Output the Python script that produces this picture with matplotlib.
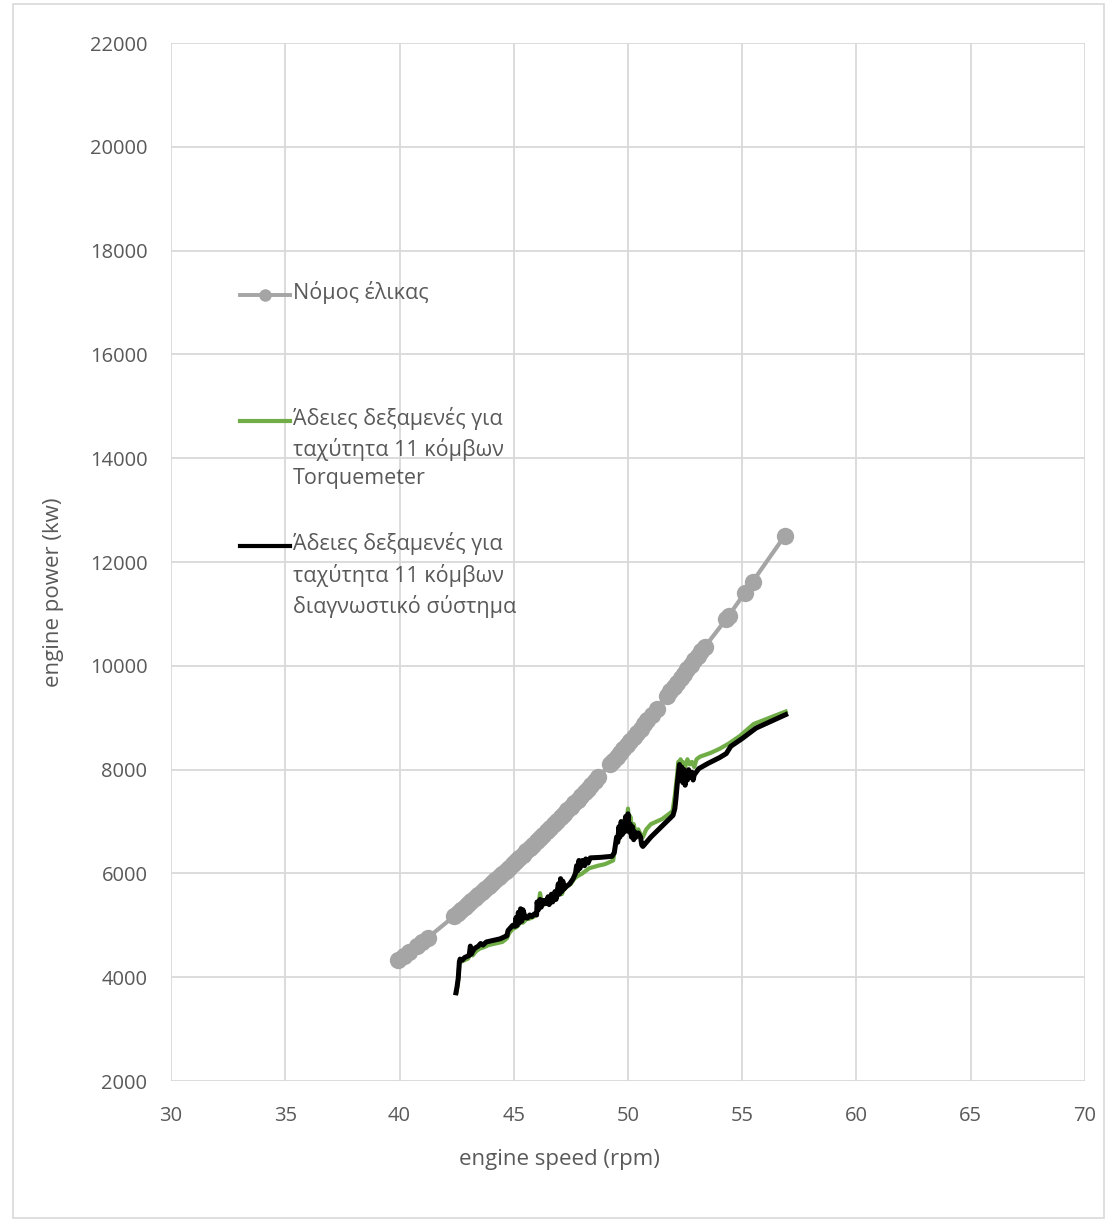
import matplotlib
matplotlib.use("Agg")
import matplotlib.pyplot as plt
from matplotlib.lines import Line2D
from matplotlib.patches import Rectangle

plt.rcParams['font.family'] = ['Open Sans', 'DejaVu Sans']

# Propeller law (gray, with markers)
prop_rpm = [39.95, 40.2, 40.4, 40.75, 41.0, 41.25,
            42.4, 42.55, 42.7, 42.85, 43.0, 43.15, 43.3, 43.45, 43.6, 43.75,
            43.9, 44.05, 44.2, 44.35, 44.5, 44.65, 44.8, 44.95, 45.1, 45.25,
            45.4, 45.55, 45.7, 45.85, 46.0, 46.15, 46.3, 46.45, 46.6, 46.75,
            46.9, 47.05, 47.2, 47.35, 47.5, 47.65, 47.8, 47.95, 48.1, 48.25,
            48.4, 48.55, 48.7,
            49.2,
            49.35, 49.5, 49.65, 49.8, 49.95, 50.1, 50.25, 50.4, 50.55, 50.7,
            50.85, 51.05,
            51.25,
            51.7, 51.85, 52.0, 52.15, 52.3, 52.45, 52.6, 52.75, 52.9, 53.05,
            53.2, 53.35,
            54.3, 54.4, 55.1, 55.45, 56.85]
prop_kw = [4340, 4416, 4481, 4598, 4680, 4765,
           5181, 5236, 5292, 5348, 5404, 5461, 5519, 5576, 5634, 5693,
           5752, 5811, 5869, 5930, 5990, 6051, 6111, 6173, 6234, 6297,
           6360, 6423, 6487, 6551, 6616, 6681, 6746, 6812, 6878, 6945,
           7012, 7080, 7147, 7215, 7285, 7354, 7424, 7493, 7564, 7635,
           7707, 7779, 7850,
           8100,
           8175, 8250, 8325, 8400, 8478, 8555, 8633, 8712, 8791, 8870,
           8951, 9060,
           9175,
           9425, 9508, 9590, 9673, 9760, 9845, 9932, 10018, 10105, 10193,
           10280, 10360,
           10900, 10960, 11400, 11620, 12500]

# Empty tanks, 11 knots - Torquemeter (green)
torq_rpm = [42.5, 42.58, 42.62, 42.7, 42.85, 43.0, 43.1, 43.2, 43.35, 43.5,
            43.7, 43.9, 44.1, 44.3, 44.5, 44.7, 44.8, 44.95, 45.1, 45.2,
            45.3, 45.4, 45.55, 45.7, 45.85, 46.0, 46.1, 46.15, 46.25, 46.4,
            46.5, 46.6, 46.75, 46.9, 47.0, 47.1, 47.2, 47.35, 47.5, 47.65,
            47.8, 48.0, 48.3, 48.7, 49.0, 49.35, 49.45, 49.55, 49.6, 49.7,
            49.75, 49.85, 49.9, 50.0, 50.05, 50.1, 50.2, 50.25, 50.35, 50.45,
            50.55, 50.65, 50.8, 51.0, 51.5, 51.95, 52.05, 52.15, 52.2, 52.25,
            52.3, 52.35, 52.4, 52.5, 52.6, 52.7, 52.8, 52.9, 53.0, 53.15,
            53.6, 54.0, 54.4, 54.9, 55.5, 56.2, 56.9]
torq_kw = [3720, 4000, 4280, 4300, 4330, 4360, 4450, 4420, 4500, 4550,
           4580, 4620, 4640, 4660, 4680, 4750, 4850, 4930, 4960, 5000,
           5080, 5050, 5120, 5130, 5160, 5200, 5450, 5620, 5380, 5420,
           5500, 5450, 5560, 5550, 5620, 5600, 5700, 5750, 5800, 5900,
           5950, 6000, 6100, 6150, 6180, 6250, 6550, 6700, 6650, 6950,
           6750, 7050, 6850, 7250, 6900, 7100, 6800, 6950, 6750, 6850,
           6750, 6700, 6850, 6950, 7050, 7200, 7500, 7900, 8150, 7950,
           8200, 7950, 8150, 8050, 8200, 8100, 8150, 8050, 8200, 8250,
           8320, 8400, 8500, 8650, 8880, 9000, 9120]

# Empty tanks, 11 knots - diagnostic system (black)
diag_rpm = [42.47, 42.52, 42.57, 42.62, 42.65, 42.75, 42.85, 42.95, 43.05, 43.1,
            43.15, 43.2, 43.3, 43.45, 43.55, 43.65, 43.8, 44.0, 44.2, 44.4,
            44.6, 44.7, 44.75, 44.85, 44.95, 45.05, 45.1, 45.15, 45.2, 45.25,
            45.3, 45.35, 45.4, 45.5, 45.6, 45.7, 45.8, 45.9, 46.0, 46.02,
            46.08, 46.15, 46.2, 46.3, 46.4, 46.5, 46.55, 46.65, 46.7, 46.8,
            46.85, 46.95, 47.0, 47.05, 47.1, 47.15, 47.2, 47.3, 47.45, 47.6,
            47.7, 47.75, 47.8, 47.85, 47.9, 47.95, 48.0, 48.1, 48.15, 48.25,
            48.35, 48.8, 49.3, 49.4, 49.45, 49.5, 49.55, 49.6, 49.65, 49.7,
            49.75, 49.8, 49.85, 49.9, 49.95, 50.0, 50.05, 50.1, 50.15, 50.2,
            50.25, 50.3, 50.35, 50.45, 50.55, 50.6, 50.65, 51.0, 51.3, 51.6,
            51.97, 52.05, 52.1, 52.15, 52.2, 52.25, 52.3, 52.35, 52.4, 52.45,
            52.5, 52.55, 52.6, 52.65, 52.7, 52.8, 52.85, 52.9, 53.1, 53.5,
            54.0, 54.3, 54.5, 55.0, 55.6, 56.2, 56.9]
diag_kw = [3700, 3820, 3980, 4300, 4350, 4330, 4380, 4400, 4420, 4600,
           4450, 4500, 4560, 4600, 4650, 4620, 4680, 4700, 4720, 4740,
           4780, 4800, 4900, 4950, 5000, 4980, 5150, 5000, 5250, 5050,
           5320, 5080, 5300, 5150, 5140, 5200, 5170, 5220, 5200, 5450,
           5300, 5500, 5350, 5480, 5420, 5550, 5400, 5600, 5450, 5650,
           5500, 5800, 5600, 5900, 5650, 5850, 5700, 5750, 5800, 5900,
           6000, 6150, 6050, 6250, 6100, 6200, 6250, 6150, 6280, 6200,
           6300, 6310, 6330, 6400, 6550, 6700, 6600, 6900, 6700, 7000,
           6750, 6950, 6800, 7100, 6850, 7150, 6800, 6950, 6700, 6900,
           6650, 6800, 6700, 6780, 6700, 6550, 6520, 6700, 6830, 6960,
           7120, 7250, 7450, 7700, 7900, 8100, 7800, 8050, 7750, 8000,
           7700, 7950, 7800, 8000, 7850, 7950, 7800, 7900, 8020, 8120,
           8230, 8310, 8450, 8600, 8800, 8920, 9060]

legend_labels = ["Νόμος έλικας",
                 "Άδειες δεξαμενές για\nταχύτητα 11 κόμβων\nTorquemeter",
                 "Άδειες δεξαμενές για\nταχύτητα 11 κόμβων\nδιαγνωστικό σύστημα"]

gray = "#a5a5a5"
green = "#70ad47"
txt = "#595959"

fig = plt.figure(figsize=(11.07, 12.2), dpi=100)
ax = fig.add_axes([0.1545, 0.1139, 0.8256, 0.8508])

ax.plot(prop_rpm, prop_kw, color=gray, lw=3.0, marker="o", ms=12.5,
        markeredgewidth=0, solid_capstyle="round", zorder=3)
ax.plot(torq_rpm, torq_kw, color=green, lw=3.0, solid_joinstyle="round", zorder=4)
ax.plot(diag_rpm, diag_kw, color="black", lw=3.6, solid_joinstyle="round", zorder=5)

ax.set_xlim(30, 70)
ax.set_ylim(2000, 22000)
ax.set_xticks(range(30, 71, 5))
ax.set_yticks(range(2000, 22001, 2000))
ax.grid(True, color="#d9d9d9", lw=1.3)
ax.set_axisbelow(True)
for s in ax.spines.values():
    s.set_visible(False)
ax.tick_params(length=0, labelsize=14.5, labelcolor=txt)
ax.tick_params(axis="x", pad=18)
ax.tick_params(axis="y", pad=17)
ax.set_xlabel("engine speed (rpm)", fontsize=16, color=txt, labelpad=18)
ax.set_ylabel("engine power (kw)", fontsize=16, color=txt, labelpad=12)
ax.xaxis.set_label_coords(0.4245, -0.065)
ax.yaxis.set_label_coords(-0.117, 0.471)

# legend drawn manually (entries aligned on first text line, like Excel)
handles = [dict(color=gray, lw=2.8, marker="o", ms=8),
           dict(color=green, lw=3.0),
           dict(color="black", lw=3.0)]
ys = [0.757, 0.636, 0.515]
for h, y, lab in zip(handles, ys, legend_labels):
    mk = h.pop("marker", None)
    ms = h.pop("ms", 0)
    ax.add_line(Line2D([0.0755, 0.130], [y, y], transform=ax.transAxes,
                       zorder=6, **h))
    if mk:
        ax.add_line(Line2D([0.1028], [y], transform=ax.transAxes, marker=mk,
                           ms=ms, color=h["color"], lw=0, zorder=7))
    ax.text(0.1335, y + 0.0135, lab, transform=ax.transAxes, ha="left", va="top",
            fontsize=15.5, color=txt, linespacing=1.45, zorder=7)

# outer chart border
fig.patches.append(Rectangle((0.012, 0.002), 0.985, 0.995, transform=fig.transFigure,
                             fill=False, edgecolor="#d9d9d9", lw=1.2))

fig.savefig("out.png", dpi=100)
